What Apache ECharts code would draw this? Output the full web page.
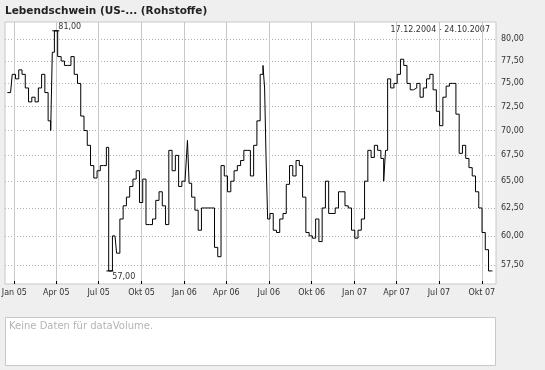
<!DOCTYPE html>
<html>
<head>
<meta charset="utf-8">
<script src="https://cdn.jsdelivr.net/npm/echarts@6/dist/echarts.min.js"></script>
<style>
html,body{margin:0;padding:0;background:#efefef;}
#chart{width:545px;height:370px;}
</style>
</head>
<body>
<div id="chart"></div>
<script>
// ---- data ----
var titleText = 'Lebendschwein (US-... (Rohstoffe)';
var rangeText = '17.12.2004 - 24.10.2007';
var volumeText = 'Keine Daten für dataVolume.';

var dates = [
 '2004-12-17','2004-12-24','2004-12-31','2005-01-07','2005-01-14','2005-01-21','2005-01-28',
 '2005-02-04','2005-02-11','2005-02-18','2005-02-25','2005-03-04','2005-03-11','2005-03-18',
 '2005-03-22','2005-03-25','2005-03-31','2005-04-08','2005-04-15','2005-04-22','2005-04-29',
 '2005-05-06','2005-05-13','2005-05-20','2005-05-27','2005-06-03','2005-06-10','2005-06-17',
 '2005-06-24','2005-07-01','2005-07-08','2005-07-15','2005-07-20','2005-07-25','2005-08-05',
 '2005-08-12','2005-08-19','2005-08-26','2005-09-02','2005-09-09','2005-09-16','2005-09-23',
 '2005-09-30','2005-10-07','2005-10-14','2005-10-21','2005-10-28','2005-11-04','2005-11-11',
 '2005-11-18','2005-11-25','2005-12-02','2005-12-09','2005-12-16','2005-12-23','2005-12-30',
 '2006-01-06','2006-01-09','2006-01-13','2006-01-20','2006-01-27','2006-02-03','2006-02-10',
 '2006-02-17','2006-02-24','2006-03-03','2006-03-10','2006-03-17','2006-03-24','2006-03-31',
 '2006-04-07','2006-04-14','2006-04-21','2006-04-28','2006-05-05','2006-05-12','2006-05-19',
 '2006-05-26','2006-06-02','2006-06-09','2006-06-16','2006-06-21','2006-06-23','2006-06-27',
 '2006-06-30','2006-07-07','2006-07-14','2006-07-21','2006-07-28','2006-08-04','2006-08-11',
 '2006-08-18','2006-08-25','2006-09-01','2006-09-08','2006-09-15','2006-09-22','2006-09-29',
 '2006-10-06','2006-10-13','2006-10-20','2006-10-27','2006-11-03','2006-11-10','2006-11-17',
 '2006-11-24','2006-12-01','2006-12-08','2006-12-15','2006-12-22','2006-12-29','2007-01-05',
 '2007-01-12','2007-01-19','2007-01-26','2007-02-02','2007-02-09','2007-02-16','2007-02-23',
 '2007-03-02','2007-03-07','2007-03-10','2007-03-16','2007-03-23','2007-03-30','2007-04-06',
 '2007-04-13','2007-04-20','2007-04-27','2007-05-04','2007-05-11','2007-05-18','2007-05-25',
 '2007-06-01','2007-06-08','2007-06-15','2007-06-22','2007-06-29','2007-07-06','2007-07-13',
 '2007-07-20','2007-07-27','2007-08-03','2007-08-10','2007-08-17','2007-08-24','2007-08-31',
 '2007-09-07','2007-09-14','2007-09-21','2007-09-28','2007-10-05','2007-10-12','2007-10-19',
 '2007-10-24'
];
var prices = [
 74.0,74.0,76.0,75.5,76.5,76.0,74.5,
 73.0,73.5,73.0,74.5,76.0,74.0,71.0,
 70.0,78.5,81.0,78.0,77.5,77.0,77.0,
 78.0,76.0,75.0,71.5,70.0,68.5,66.5,
 65.3,66.0,66.5,66.5,68.3,57.0,60.0,
 58.5,61.5,62.7,63.5,64.5,65.2,66.0,
 63.0,65.2,61.0,61.0,61.5,63.2,64.0,
 62.7,61.0,68.0,66.0,67.5,64.5,65.0,
 65.2,69.0,64.8,63.5,62.3,60.5,62.5,
 62.5,62.5,62.5,59.0,58.2,66.5,65.5,
 64.0,65.0,66.0,66.5,67.0,68.0,68.0,
 65.5,68.5,71.0,76.0,77.0,74.5,67.5,
 61.5,62.0,60.5,60.3,61.5,62.0,64.7,
 66.5,65.5,67.0,66.5,63.5,60.3,60.0,
 59.8,61.5,59.5,62.5,65.0,62.0,62.0,
 62.5,64.0,64.0,62.7,62.5,60.5,59.8,
 60.5,61.5,65.0,68.0,67.3,68.5,68.0,
 67.2,65.0,68.0,75.5,74.5,75.0,76.0,
 77.7,77.0,75.0,74.3,74.5,75.0,73.5,
 74.5,75.5,76.0,74.3,72.0,70.5,73.5,
 74.7,75.0,75.0,71.7,67.7,68.5,67.2,
 66.3,65.5,64.0,62.5,60.3,58.8,57.0,
 57.0
];
var xTickDates = ['2005-01-01','2005-04-01','2005-07-01','2005-10-01','2006-01-01','2006-04-01',
                  '2006-07-01','2006-10-01','2007-01-01','2007-04-01','2007-07-01','2007-10-01'];
var xTickLabels = ['Jan 05','Apr 05','Jul 05','Okt 05','Jan 06','Apr 06',
                   'Jul 06','Okt 06','Jan 07','Apr 07','Jul 07','Okt 07'];
var yTicks = [57.5,60,62.5,65,67.5,70,72.5,75,77.5,80];
var xMinDate = '2004-12-12', xMaxDate = '2007-10-31T12:00:00';

// ---- chart ----
function ts(s){ return echarts.time.parse(s).getTime(); }
var seriesData = dates.map(function(d,i){ return [ts(d), prices[i]]; });
var xTickTs = xTickDates.map(ts);
function fmtNum(v){ return v.toFixed(2).replace('.', ','); }
var FONT = 'DejaVu Sans';

var chart = echarts.init(document.getElementById('chart'), null, {renderer:'canvas'});
chart.setOption({
  backgroundColor: '#efefef',
  animation: false,
  title: {
    text: titleText, left: 5, top: 6, padding: 0,
    textStyle: {fontFamily: FONT, fontSize: 10.5, fontWeight: 'bold', color: '#222'}
  },
  grid: {
    left: 5, right: 49, top: 22, bottom: 86,
    show: true, backgroundColor: '#ffffff', borderColor: '#c8c8c8', borderWidth: 1,
    containLabel: false, outerBoundsMode: 'none'
  },
  xAxis: {
    type: 'value',
    min: ts(xMinDate), max: ts(xMaxDate),
    axisLine: {show: false},
    axisTick: {show: true, inside: true, length: 3, lineStyle: {color: '#000'}, customValues: xTickTs},
    axisLabel: {
      customValues: xTickTs, margin: 5, fontFamily: FONT, fontSize: 8, color: '#333',
      hideOverlap: false, showMinLabel: true, showMaxLabel: true,
      formatter: function(v){
        var i = xTickTs.indexOf(v);
        return i >= 0 ? xTickLabels[i] : '';
      }
    },
    splitLine: {show: true, lineStyle: {color: '#c8c8c8', width: 1, type: 'solid'}}
  },
  yAxis: {
    type: 'log', logBase: 10, position: 'right',
    min: 55.92, max: 82.05,
    axisLine: {show: false},
    axisTick: {show: false, customValues: yTicks},
    axisLabel: {
      customValues: yTicks, margin: 5, fontFamily: FONT, fontSize: 8, color: '#333',
      formatter: function(v){ return fmtNum(v); }
    },
    splitLine: {show: true, lineStyle: {color: '#b4b4b4', width: 1, type: [1,2]}}
  },
  series: [{
    type: 'line',
    data: seriesData,
    step: 'middle',
    showSymbol: false,
    symbol: 'none',
    lineStyle: {color: '#000', width: 1},
    markPoint: {
      symbol: 'rect', symbolSize: [7,1],
      itemStyle: {color: '#000'},
      label: {fontFamily: FONT, fontSize: 8, color: '#333'},
      data: [
        {type: 'max', label: {position: 'right', offset: [-6,-4], formatter: function(p){ return fmtNum(p.value); }}},
        {type: 'min', label: {position: 'right', offset: [-6,6], formatter: function(p){ return fmtNum(p.value); }}}
      ]
    }
  }],
  graphic: [
    {type: 'text', right: 55, top: 26, style: {text: rangeText, fontFamily: FONT, fontSize: 8, fill: '#333'}},
    {type: 'rect', left: 5, top: 317, shape: {width: 490, height: 48},
     style: {fill: '#fff', stroke: '#c8c8c8', lineWidth: 1}},
    {type: 'text', left: 9, top: 321, style: {text: volumeText, fontFamily: FONT, fontSize: 10, fill: '#b4b4b4'}}
  ]
});
</script>
</body>
</html>
